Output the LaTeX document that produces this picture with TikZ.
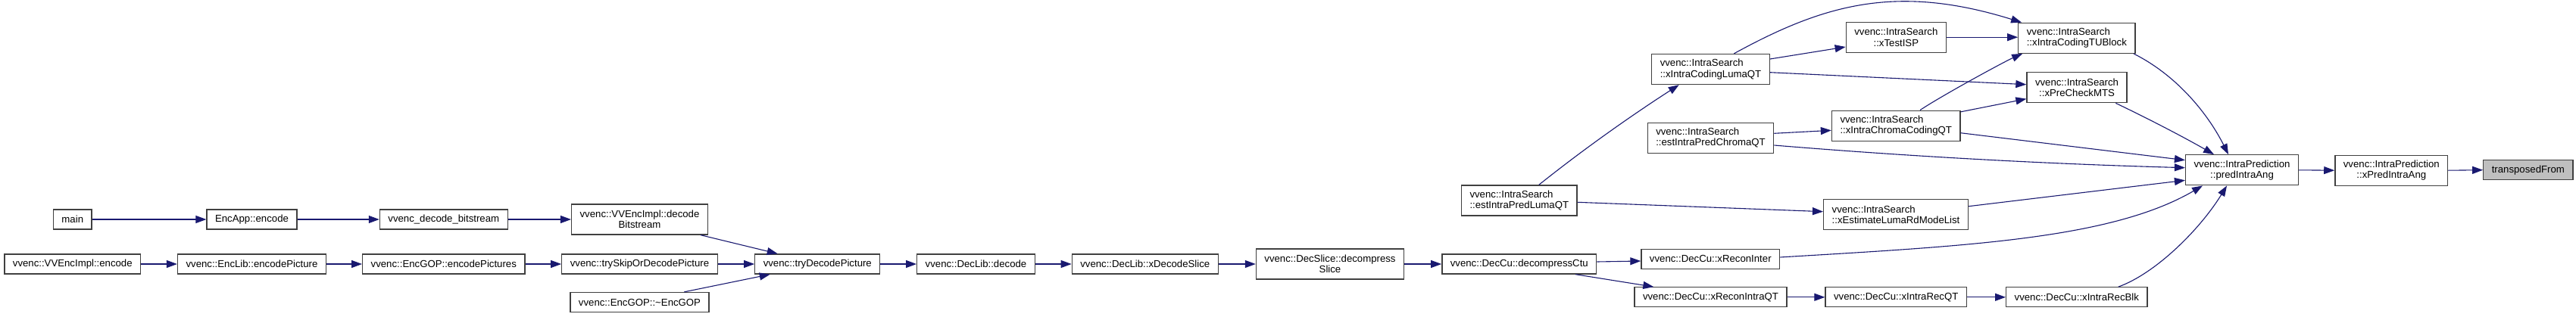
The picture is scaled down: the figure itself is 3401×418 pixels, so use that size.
\documentclass[tikz,border=0pt]{standalone}
\usepackage{fontspec}
\setmainfont{Liberation Sans}
\usetikzlibrary{arrows.meta}
\definecolor{callblue}{RGB}{25,25,112}
\definecolor{boxedge}{RGB}{64,64,64}
\definecolor{boxhl}{RGB}{191,191,191}
\tikzstyle{fn}=[draw=boxedge, fill=white, line width=1.3pt, inner xsep=11pt, inner ysep=2pt, minimum height=26pt, font=\fontsize{13.2}{14.3}\selectfont]
\tikzstyle{fntwo}=[fn, minimum height=40pt]
\tikzstyle{fnhl}=[fn, fill=boxhl]
\tikzstyle{call}=[callblue, line width=1.1pt, -{Triangle[length=14pt, width=10pt]}]

\begin{document}
\begin{tikzpicture}[x=1pt, y=-1pt]
				\useasboundingbox (0,0) rectangle (3401,418);

				% Encoder and decoder chain
				\node[fn] (main) at (95.8,290) {main};
				\node[fn] (encapp) at (332.5,290) {EncApp::encode};
				\node[fn] (decbits) at (585.8,290) {vvenc\_decode\_bitstream};
				\node[fntwo, align=center] (vvdecbits) at (844.5,290) {vvenc::VVEncImpl::decode\\Bitstream};
				\node[fn] (vvencenc) at (95.8,349) {vvenc::VVEncImpl::encode};
				\node[fn] (enclibpic) at (332.5,349) {vvenc::EncLib::encodePicture};
				\node[fn] (encgoppics) at (585.8,349) {vvenc::EncGOP::encodePictures};
				\node[fn] (tryskip) at (844.5,349) {vvenc::trySkipOrDecodePicture};
				\node[fn] (encgopdtor) at (844.5,399.5) {vvenc::EncGOP::\textasciitilde EncGOP};
				\node[fn] (trydec) at (1079.3,349) {vvenc::tryDecodePicture};
				\node[fn] (declibdec) at (1288.5,349) {vvenc::DecLib::decode};
				\node[fn] (xdecslice) at (1511.8,349) {vvenc::DecLib::xDecodeSlice};
				\node[fntwo, align=center] (decslice) at (1756,349) {vvenc::DecSlice::decompress\\Slice};
				\node[fn] (decctu) at (2005.8,349) {vvenc::DecCu::decompressCtu};

				% Intra search and reconstruction
				\node[fntwo, align=left] (estluma) at (2005.8,265) {vvenc::IntraSearch\\::estIntraPredLumaQT};
				\node[fntwo, align=left] (xlumaqt) at (2258.5,91.5) {vvenc::IntraSearch\\::xIntraCodingLumaQT};
				\node[fntwo, align=left] (estchroma) at (2258.5,182.3) {vvenc::IntraSearch\\::estIntraPredChromaQT};
				\node[fn] (recinter) at (2258.3,342.3) {vvenc::DecCu::xReconInter};
				\node[fn] (recintraqt) at (2258.5,392.8) {vvenc::DecCu::xReconIntraQT};
				\node[fntwo, align=center] (xtestisp) at (2503.3,49.2) {vvenc::IntraSearch\\::xTestISP};
				\node[fntwo, align=left] (xchromaqt) at (2503.2,166.2) {vvenc::IntraSearch\\::xIntraChromaCodingQT};
				\node[fntwo, align=left] (xlumard) at (2503,283.7) {vvenc::IntraSearch\\::xEstimateLumaRdModeList};
				\node[fn] (intrarecqt) at (2503.2,392.8) {vvenc::DecCu::xIntraRecQT};
				\node[fntwo, align=left] (xtublock) at (2741.8,50.3) {vvenc::IntraSearch\\::xIntraCodingTUBlock};
				\node[fntwo, align=center] (xprecheck) at (2742,115.7) {vvenc::IntraSearch\\::xPreCheckMTS};
				\node[fn] (intrarecblk) at (2741.8,392.8) {vvenc::DecCu::xIntraRecBlk};

				% Prediction
				\node[fntwo, align=center] (predang) at (2960,224.8) {vvenc::IntraPrediction\\::predIntraAng};
				\node[fntwo, align=center] (xpredang) at (3157.3,225.2) {vvenc::IntraPrediction\\::xPredIntraAng};
				\node[fnhl] (transp) at (3337.8,224.7) {transposedFrom};

				\foreach \a/\b in {main/encapp, encapp/decbits, decbits/vvdecbits, vvencenc/enclibpic, enclibpic/encgoppics, encgoppics/tryskip, tryskip/trydec, trydec/declibdec, declibdec/xdecslice, xdecslice/decslice, decslice/decctu, recintraqt/intrarecqt, intrarecqt/intrarecblk, predang/xpredang, xpredang/transp}{ \draw[call] (\a.east) -- (\b.west); }

				\draw[call] ([xshift=80.5]vvdecbits.south) -- ([xshift=-52.6]trydec.north);
				\draw[call] ([xshift=58.8]encgopdtor.north) -- ([xshift=-62.6]trydec.south);
				\draw[call] ([yshift=3]decctu.east) -- ([yshift=-2.7]recinter.west);
				\draw[call] ([xshift=74.2]decctu.south) -- ([xshift=-75.2]recintraqt.north);

				\draw[call] ([xshift=25.9]estluma.north) .. controls +(60,-48) and +(-62,40) .. ([xshift=-41.8]xlumaqt.south);
				\draw[call] ([yshift=-2.3]estluma.east) -- ([yshift=4]xlumard.west);
				\draw[call] ([yshift=13.5]xlumaqt.east) -- ([yshift=-12.8]xtestisp.west);
				\draw[call] ([yshift=-4.2]xlumaqt.east) -- ([yshift=4]xprecheck.west);
				\draw[call] ([xshift=30.8]xlumaqt.north) .. controls +(120,-66) and +(-164,-51) .. ([xshift=5]xtublock.north west);
				\draw[call] (xtestisp.east) -- (xtestisp.east -| xtublock.west);
				\draw[call] ([xshift=31.8]xchromaqt.north) .. controls +(25,-17) and +(-25,11) .. ([xshift=6]xtublock.south west);
				\draw[call] ([yshift=-2.3]xchromaqt.north east) -- ([yshift=5.7]xprecheck.south west);
				\draw[call] ([yshift=6]estchroma.east) -- ([yshift=-6.1]xchromaqt.west);

				% Callers of predIntraAng
				\draw[call] ([xshift=-2.6]xtublock.south east) .. controls +(60,30) and +(-25,-50) .. ([xshift=-18]predang.north);
				\draw[call] ([xshift=51.3]xprecheck.south) .. controls +(40,19) and +(-40,-23) .. ([xshift=-37]predang.north);
				\draw[call] ([yshift=-9.5]xchromaqt.east) -- ([yshift=13.1]predang.west);
				\draw[call] ([yshift=-9.7]estchroma.east) .. controls +(181,15) and +(-181,-5) .. ([yshift=3.1]predang.west);
				\draw[call] ([yshift=11]xlumard.east) -- ([yshift=-13.5]predang.west);
				\draw[call] ([yshift=2.3]recinter.east) .. controls +(250,-15) and +(-120,70) .. ([xshift=-52]predang.south);
				\draw[call] ([xshift=54.9]intrarecblk.north) .. controls +(50,-18) and +(-35,57) .. ([xshift=-20]predang.south);
			\end{tikzpicture}
\end{document}
